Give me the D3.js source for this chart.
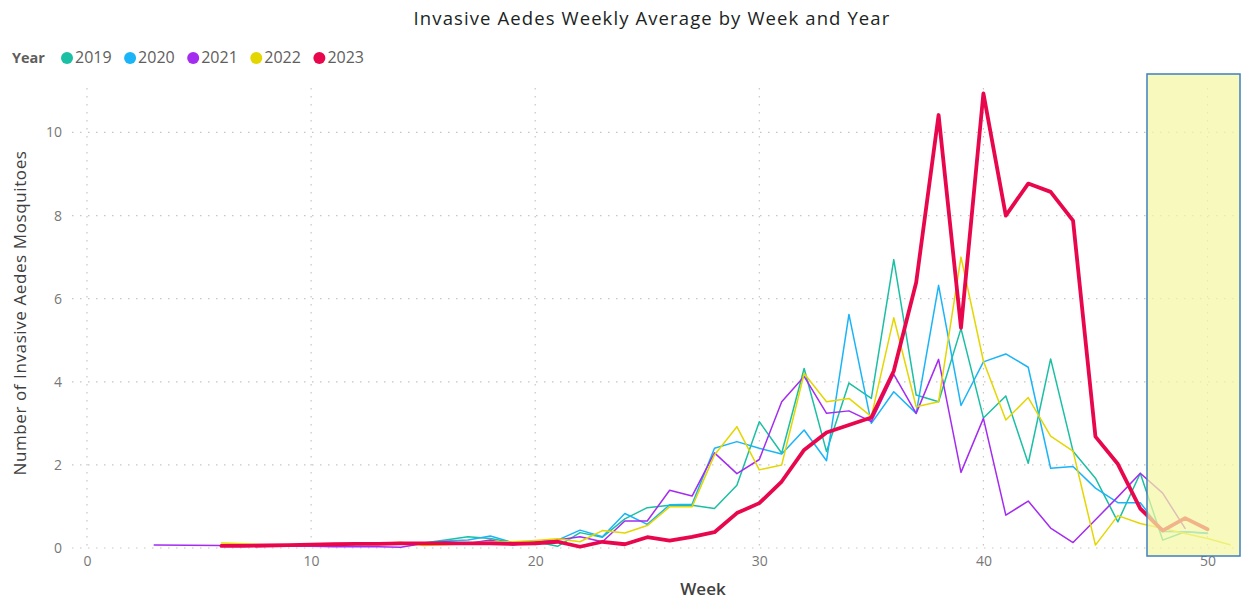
<!DOCTYPE html>
<html>
<head>
<meta charset="utf-8">
<script src="https://cdn.jsdelivr.net/npm/d3@7"></script>
<style>
  body { margin: 0; background: #fff; }
  svg { display: block; font-family: "Open Sans", "Noto Sans", sans-serif; }
</style>
</head>
<body>
<svg width="1249" height="599"></svg>
<script>
const years = ["2019", "2020", "2021", "2022", "2023"];
const colors = ["#1BBFA3", "#1AB4F7", "#A42BF0", "#E4D600", "#E8074C"];

const weeks2019 = d3.range(6, 51);
const vals2019 = [0.06, 0.06, 0.07, 0.07, 0.08, 0.08, 0.09, 0.09, 0.1, 0.12,
  0.19, 0.27, 0.23, 0.13, 0.15, 0.04, 0.37, 0.26, 0.7, 0.97,
  1.03, 1.03, 0.95, 1.51, 3.04, 2.28, 4.32, 2.32, 3.97, 3.6,
  6.94, 3.68, 3.52, 5.28, 3.13, 3.66, 2.04, 4.55, 2.33, 1.68,
  0.63, 1.8, 0.19, 0.39, 0.35];

const weeks2020 = d3.range(6, 51);
const vals2020 = [0.06, 0.06, 0.07, 0.07, 0.07, 0.08, 0.08, 0.09, 0.1, 0.11,
  0.17, 0.19, 0.29, 0.13, 0.15, 0.19, 0.43, 0.27, 0.83, 0.57,
  1.04, 1.05, 2.4, 2.56, 2.4, 2.26, 2.84, 2.1, 5.62, 3.0,
  3.76, 3.24, 6.32, 3.43, 4.48, 4.67, 4.35, 1.92, 1.96, 1.44,
  1.09, 1.09, 0.4, 0.39, 0.36];

const weeks2021 = [3].concat(d3.range(6, 50));
const vals2021 = [0.07, 0.06, 0.05, 0.05, 0.04, 0.04, 0.03, 0.03, 0.03, 0.02,
  0.11, 0.15, 0.11, 0.19, 0.07, 0.15, 0.19, 0.27, 0.15, 0.65,
  0.65, 1.39, 1.25, 2.29, 1.79, 2.13, 3.52, 4.13, 3.24, 3.3,
  3.04, 4.18, 3.24, 4.54, 1.82, 3.12, 0.79, 1.13, 0.48, 0.13,
  0.68, 1.23, 1.8, 1.32, 0.47];

const weeks2022 = d3.range(6, 52);
const vals2022 = [0.12, 0.1, 0.08, 0.08, 0.08, 0.09, 0.1, 0.11, 0.14, 0.06,
  0.08, 0.11, 0.15, 0.15, 0.18, 0.22, 0.15, 0.42, 0.36, 0.54,
  0.99, 0.99, 2.24, 2.92, 1.88, 2.0, 4.2, 3.52, 3.6, 3.16,
  5.54, 3.4, 3.52, 7.0, 4.5, 3.08, 3.62, 2.69, 2.33, 0.07,
  0.78, 0.59, 0.47, 0.35, 0.23, 0.08];

const weeks2023 = d3.range(6, 51);
const vals2023 = [0.05, 0.05, 0.06, 0.07, 0.08, 0.09, 0.1, 0.1, 0.11, 0.11,
  0.11, 0.11, 0.11, 0.1, 0.11, 0.15, 0.03, 0.15, 0.09, 0.26,
  0.18, 0.27, 0.38, 0.84, 1.08, 1.6, 2.36, 2.78, 2.96, 3.14,
  4.26, 6.39, 10.42, 5.3, 10.94, 8.0, 8.77, 8.57, 7.88, 2.68,
  2.02, 0.95, 0.42, 0.72, 0.45];

const xTicks = [0, 10, 20, 30, 40, 50];
const yTicks = [0, 2, 4, 6, 8, 10];
const highlightWeeks = [47.3, 51.45];

const seriesWeeks = [weeks2019, weeks2020, weeks2021, weeks2022, weeks2023];
const seriesVals = [vals2019, vals2020, vals2021, vals2022, vals2023];
const series = years.map((y, i) => ({
  year: y,
  color: colors[i],
  points: seriesWeeks[i].map((w, j) => ({ w: w, v: seriesVals[i][j] }))
}));

const svg = d3.select("svg");

const x = d3.scaleLinear().domain([0, 51.45]).range([87, 1240]);
const y = d3.scaleLinear().domain([0, 11.07]).range([548, 88]);

// title
svg.append("text")
  .attr("x", 652).attr("y", 25)
  .attr("text-anchor", "middle")
  .attr("font-size", 18.5)
  .attr("letter-spacing", 1.1)
  .attr("fill", "#201F1E")
  .text("Invasive Aedes Weekly Average by Week and Year");

// legend
const legend = svg.append("g").attr("transform", "translate(12,63)");
legend.append("text")
  .attr("font-size", 14.5).attr("font-weight", "bold")
  .attr("fill", "#605E5C")
  .text("Year");
let lx = 54;
series.forEach(s => {
  legend.append("circle").attr("cx", lx + 1).attr("cy", -5).attr("r", 6).attr("fill", s.color);
  const t = legend.append("text")
    .attr("x", lx + 9).attr("font-size", 16).attr("fill", "#605E5C")
    .text(s.year);
  lx += 9 + t.node().getComputedTextLength() + 17.5;
});

// gridlines
const grid = svg.append("g");
grid.selectAll("line.h").data(yTicks).enter().append("line")
  .attr("x1", 72).attr("x2", 1240)
  .attr("y1", d => y(d)).attr("y2", d => y(d))
  .attr("stroke", "#C8C6C4").attr("stroke-width", 1.2)
  .attr("stroke-dasharray", "1.5,6.5");
grid.selectAll("line.v").data(xTicks).enter().append("line")
  .attr("x1", d => x(d)).attr("x2", d => x(d))
  .attr("y1", 88).attr("y2", 548)
  .attr("stroke", "#C8C6C4").attr("stroke-width", 1.2)
  .attr("stroke-dasharray", "1.5,6.5");

// axes
const yAxis = svg.append("g")
  .attr("transform", "translate(62,0)")
  .call(d3.axisLeft(y).tickValues(yTicks).tickSize(0).tickPadding(0));
const xAxis = svg.append("g")
  .attr("transform", "translate(0,553)")
  .call(d3.axisBottom(x).tickValues(xTicks).tickSize(0).tickPadding(0));
[xAxis, yAxis].forEach(a => {
  a.select(".domain").remove();
  a.selectAll("text").attr("font-size", 14).attr("fill", "#777").attr("font-family", "\"Open Sans\", sans-serif");
});
xAxis.selectAll("text").attr("dy", "0.95em");

svg.append("text")
  .attr("x", 703).attr("y", 595)
  .attr("text-anchor", "middle")
  .attr("font-size", 17).attr("font-weight", 600).attr("fill", "#404040")
  .text("Week");
svg.append("text")
  .attr("transform", "translate(26,313) rotate(-90)")
  .attr("text-anchor", "middle")
  .attr("font-size", 17).attr("letter-spacing", 0.6).attr("fill", "#404040")
  .text("Number of Invasive Aedes Mosquitoes");

// lines
const line = d3.line().x(d => x(d.w)).y(d => y(d.v));
svg.append("g").selectAll("path").data(series).enter().append("path")
  .attr("d", d => line(d.points))
  .attr("fill", "none")
  .attr("stroke", d => d.color)
  .attr("stroke-width", d => d.year === "2023" ? 3.8 : 1.5)
  .attr("stroke-linejoin", "round")
  .attr("stroke-linecap", "round");

// highlight box
svg.append("rect")
  .attr("x", x(highlightWeeks[0])).attr("y", 74)
  .attr("width", x(highlightWeeks[1]) - x(highlightWeeks[0]))
  .attr("height", 482)
  .attr("fill", "#F4F8A2").attr("fill-opacity", 0.72)
  .attr("stroke", "#3C7FC2").attr("stroke-width", 1.5);
</script>
</body>
</html>
